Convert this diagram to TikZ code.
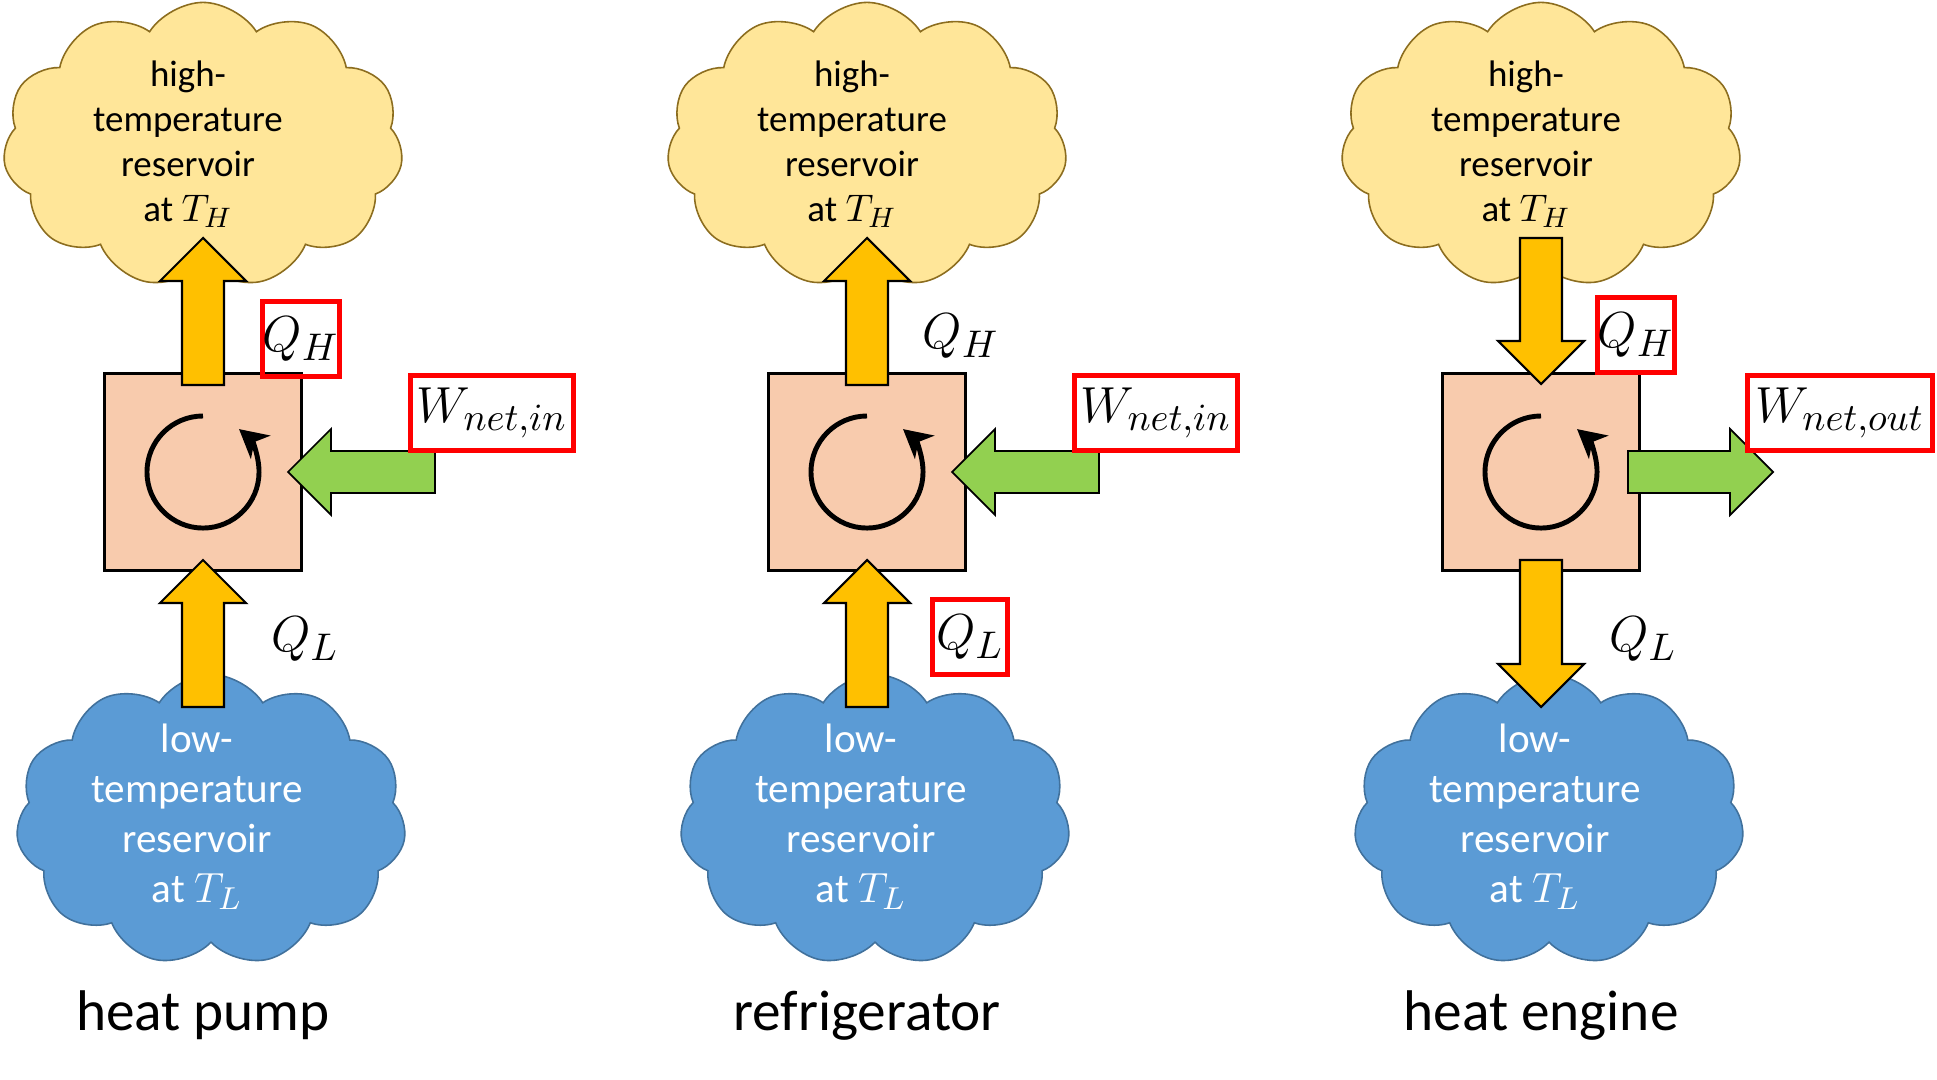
\documentclass[tikz,border=0pt]{standalone}
\usepackage{fontspec}
\setmainfont{Carlito}
\DeclareMathSizes{14}{14}{11}{8.5}
\DeclareMathSizes{10.5}{10.5}{8.2}{6}
\DeclareMathSizes{11.7}{11.7}{9.2}{7}
\usetikzlibrary{shapes.symbols,arrows.meta,calc}
\definecolor{hotfill}{HTML}{FFE699}
\definecolor{hotline}{HTML}{8C6D1F}
\definecolor{coldfill}{HTML}{5B9BD5}
\definecolor{coldline}{HTML}{41719C}
\definecolor{engfill}{HTML}{F8CBAD}
\definecolor{heat}{HTML}{FFC000}
\definecolor{work}{HTML}{92D050}
\definecolor{mark}{HTML}{FF0000}

\tikzset{
  hotcloud/.style={cloud,cloud puffs=11,cloud puff arc=115,aspect=1.4,draw=hotline,fill=hotfill,line width=0.45pt,minimum width=4cm,minimum height=2.85cm,inner sep=0pt},
  coldcloud/.style={cloud,cloud puffs=11,cloud puff arc=115,aspect=1.33,draw=coldline,fill=coldfill,line width=0.45pt,minimum width=3.9cm,minimum height=2.91cm,inner sep=0pt},
  hottext/.style={align=center,inner sep=0pt,font=\fontsize{10.5}{12.8}\selectfont},
  coldtext/.style={align=center,inner sep=0pt,text=white,font=\fontsize{11.7}{14.2}\selectfont},
  engine/.style={draw,fill=engfill,line width=0.85pt,minimum size=1.97cm},
  loopline/.style={line width=1.4pt,-{Stealth[length=2.8mm,width=3mm,inset=0.8mm]}},
  heatarrow/.style={draw=black,fill=heat,line width=0.6pt},
  workarrow/.style={draw=black,fill=work,line width=0.5pt},
  qlabel/.style={inner sep=0pt,font=\fontsize{14}{17}\selectfont},
  redbox/.style={qlabel,draw=mark,line width=1.42pt,minimum width=0.75cm,minimum height=0.75cm},
  caption/.style={anchor=base,font=\fontsize{16.3}{19}\selectfont}
}

\newcommand{\fatarrow}[3]{%
  \coordinate (fa-base) at ($(#3)!0.43cm!(#2)$);
  \filldraw[#1] ($(#2)!0.21cm!90:(#3)$) -- ($(fa-base)!0.21cm!-90:(#2)$)
    -- ($(fa-base)!0.43cm!-90:(#2)$) -- (#3) -- ($(fa-base)!0.43cm!90:(#2)$)
    -- ($(fa-base)!0.21cm!90:(#2)$) -- ($(#2)!0.21cm!-90:(#3)$) -- cycle;}

\begin{document}
\begin{tikzpicture}[x=0.01cm,y=0.01cm]
\useasboundingbox (0,0) rectangle (1937,-1080);

\foreach \p/\X/\name in {1/203/heat pump,2/867/refrigerator,3/1541/heat engine}{
  \node[hotcloud] (hot\p) at (\X,-145) {};
  \node[hottext] (hottxt\p) at (\X-15,-144) {high-\\temperature\\reservoir\\at $T_H$};
  \node[coldcloud] (cold\p) at (\X+8,-820) {};
  \node[coldtext] (coldtxt\p) at (\X-6,-817) {low-\\temperature\\reservoir\\at $T_L$};
  \node[engine] (eng\p) at (\X,-472) {};
  \draw[loopline] ($(eng\p.center)+(0,56)$) arc[start angle=90,end angle=410,radius=0.56cm];
  \node[caption] (cap\p) at (\X,-1030) {\name};
}

% heat pump
\node[redbox] (qh1) at ($(eng1.center)+(98,133)$) {$Q_H$};
\node[qlabel] (ql1) at ($(eng1.center)+(102,-167)$) {$Q_L$};
\coordinate (qhs1) at ($(eng1.center)+(0,87)$);
\coordinate (qht1) at ($(eng1.center)+(0,234)$);
\coordinate (qls1) at ($(eng1.center)+(0,-235)$);
\coordinate (qlt1) at ($(eng1.center)+(0,-88)$);
\coordinate (ws1) at ($(eng1.center)+(232,0)$);
\coordinate (wt1) at ($(eng1.center)+(85,0)$);
\fatarrow{heatarrow}{qhs1}{qht1}
\fatarrow{heatarrow}{qls1}{qlt1}
\fatarrow{workarrow}{ws1}{wt1}
\node[redbox,fill=white,minimum width=1.63cm] (w1) at ($(eng1.center)+(289,59)$) {$W_{net,in}$};

% refrigerator
\node[qlabel] (qh2) at ($(eng2.center)+(94,136)$) {$Q_H$};
\node[redbox] (ql2) at ($(eng2.center)+(103,-165)$) {$Q_L$};
\coordinate (qhs2) at ($(eng2.center)+(0,87)$);
\coordinate (qht2) at ($(eng2.center)+(0,234)$);
\coordinate (qls2) at ($(eng2.center)+(0,-235)$);
\coordinate (qlt2) at ($(eng2.center)+(0,-88)$);
\coordinate (ws2) at ($(eng2.center)+(232,0)$);
\coordinate (wt2) at ($(eng2.center)+(85,0)$);
\fatarrow{heatarrow}{qhs2}{qht2}
\fatarrow{heatarrow}{qls2}{qlt2}
\fatarrow{workarrow}{ws2}{wt2}
\node[redbox,fill=white,minimum width=1.63cm] (w2) at ($(eng2.center)+(289,59)$) {$W_{net,in}$};

% heat engine
\node[redbox] (qh3) at ($(eng3.center)+(95,137)$) {$Q_H$};
\node[qlabel] (ql3) at ($(eng3.center)+(102,-167)$) {$Q_L$};
\coordinate (qhs3) at ($(eng3.center)+(0,234)$);
\coordinate (qht3) at ($(eng3.center)+(0,88)$);
\coordinate (qls3) at ($(eng3.center)+(0,-88)$);
\coordinate (qlt3) at ($(eng3.center)+(0,-235)$);
\coordinate (ws3) at ($(eng3.center)+(87,0)$);
\coordinate (wt3) at ($(eng3.center)+(232,0)$);
\fatarrow{heatarrow}{qhs3}{qht3}
\fatarrow{heatarrow}{qls3}{qlt3}
\fatarrow{workarrow}{ws3}{wt3}
\node[redbox,fill=white,minimum width=1.84cm] (w3) at ($(eng3.center)+(299,59)$) {$W_{net,out}$};
\end{tikzpicture}
\end{document}
